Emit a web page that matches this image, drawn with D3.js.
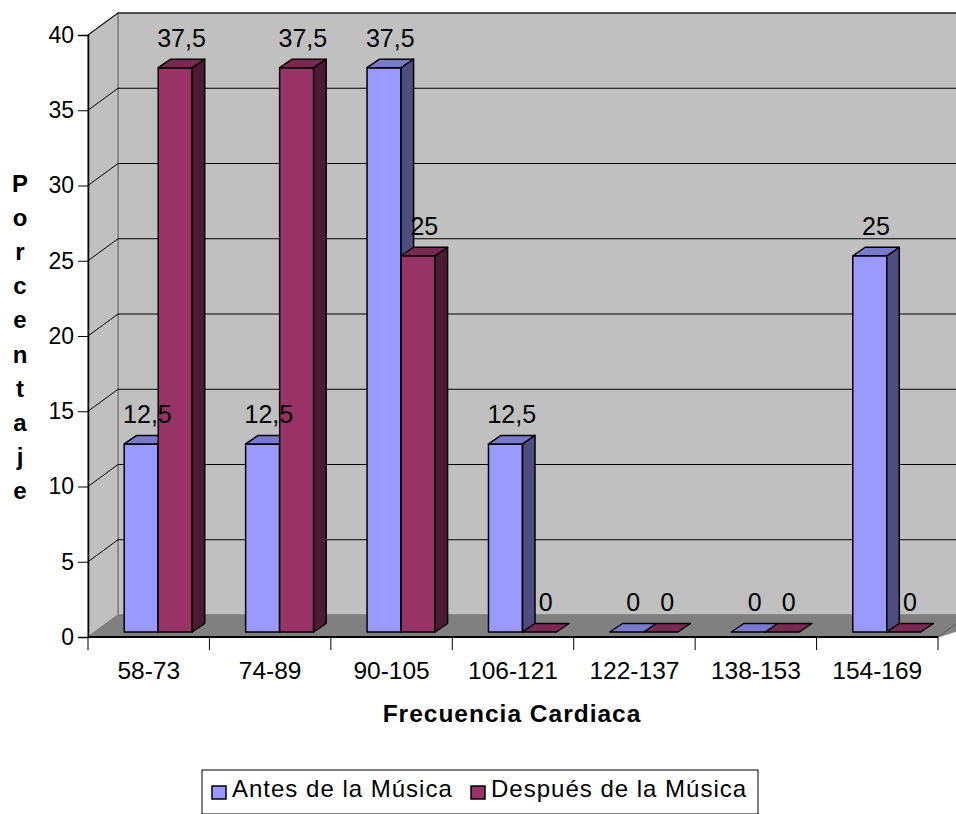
<!DOCTYPE html>
<html>
<head>
<meta charset="utf-8">
<script src="https://cdn.jsdelivr.net/npm/d3@7"></script>
<style>
  html, body { margin: 0; padding: 0; background: #ffffff; }
  svg { display: block; font-family: "Liberation Sans", Arial, sans-serif; }
</style>
</head>
<body>
<svg id="chart" width="956" height="814"></svg>
<script>
// Heart-rate ranges and percentage of subjects before / after music
const categories = ["58-73", "74-89", "90-105", "106-121", "122-137", "138-153", "154-169"];
const seriesNames = ["Antes de la Música", "Después de la Música"];
const antes = [12.5, 12.5, 37.5, 12.5, 0, 0, 25];
const despues = [37.5, 37.5, 25, 0, 0, 0, 0];
const yTicks = [0, 5, 10, 15, 20, 25, 30, 35, 40];
const yTitle = "Porcentaje";
const xTitle = "Frecuencia Cardiaca";

const colors = [
  { front: "#9999FF", top: "#7A7ACC", side: "#4D4D80" },
  { front: "#993366", top: "#7A2952", side: "#4D1A33" }
];

const FONT = "Liberation Sans, Arial, sans-serif";
const svg = d3.select("#chart");

// Plot frame (front plane) and 3D depth offsets
const x0 = 88, x1 = 938, yBottom = 637, yTop = 35;
const DX = 30, DY = -22;            // full wall depth
const ox = 9.5, oy = -5;            // bar front face offset from the front plane
const bdx = 12.5, bdy = -8.5;       // bar depth
const backRight = 975;

const x = d3.scaleBand().domain(categories).range([x0, x1]).paddingInner(0).paddingOuter(0);
const xs = d3.scaleBand().domain(seriesNames).range([0, x.bandwidth()]).paddingInner(0).paddingOuter(0.785);
const y = d3.scaleLinear().domain([0, 40]).range([yBottom, yTop]);

// Walls
const gWalls = svg.append("g");
gWalls.append("polygon")
  .attr("points", [[x0 + DX, y(40) + DY], [backRight, y(40) + DY], [backRight, y(0) + DY], [x0 + DX, y(0) + DY]].join(" "))
  .attr("fill", "#C0C0C0").attr("stroke", "#808080").attr("stroke-width", 1.5);
gWalls.append("polygon")
  .attr("points", [[x0, y(40)], [x0 + DX, y(40) + DY], [x0 + DX, y(0) + DY], [x0, y(0)]].join(" "))
  .attr("fill", "#C0C0C0").attr("stroke", "#808080").attr("stroke-width", 1.5);

// gridlines on back wall and side wall
yTicks.filter(t => t > 0).forEach(t => {
  gWalls.append("line")
    .attr("x1", x0 + DX).attr("x2", backRight)
    .attr("y1", y(t) + DY).attr("y2", y(t) + DY)
    .attr("stroke", "#000").attr("stroke-width", 1);
  gWalls.append("line")
    .attr("x1", x0).attr("x2", x0 + DX)
    .attr("y1", y(t)).attr("y2", y(t) + DY)
    .attr("stroke", "#000").attr("stroke-width", 1);
});

// floor
gWalls.append("polygon")
  .attr("points", [[x0, y(0)], [x0 + DX, y(0) + DY], [x1 + DX + 40, y(0) + DY], [x1, y(0)]].join(" "))
  .attr("fill", "#808080").attr("stroke", "#808080");
gWalls.append("line")
  .attr("x1", x1).attr("y1", y(0)).attr("x2", x1 + DX).attr("y2", y(0) + DY)
  .attr("stroke", "#595959").attr("stroke-width", 1);

// Axes
const yAxis = d3.axisLeft(y).tickValues(yTicks).tickSize(10).tickPadding(4).tickFormat(d3.format("d"));
const gy = svg.append("g").attr("transform", `translate(${x0},0)`).call(yAxis);
gy.select(".domain").attr("stroke", "#000").attr("stroke-width", 1.5);
gy.selectAll(".tick line").attr("stroke", "#000");
gy.selectAll(".tick text").attr("font-size", 23).attr("fill", "#000").attr("font-family", FONT);

const xAxis = d3.axisBottom(x).tickSize(0).tickPadding(25);
const gx = svg.append("g").attr("transform", `translate(0,${yBottom})`).call(xAxis);
gx.select(".domain").remove();
gx.append("line").attr("x1", x0).attr("x2", x1).attr("y1", 0).attr("y2", 0).attr("stroke", "#000").attr("stroke-width", 2);
gx.selectAll(".tick text").attr("font-size", 24.5).attr("fill", "#000").attr("font-family", FONT);
const bounds = categories.map(c => x(c)).concat([x1]);
gx.selectAll(".bnd").data(bounds).enter().append("line")
  .attr("x1", d => d).attr("x2", d => d).attr("y1", 0).attr("y2", 13)
  .attr("stroke", "#000").attr("stroke-width", 1);

// Bars
const data = categories.map((c, i) => [antes[i], despues[i]]);
const gBars = svg.append("g");
const labels = [];

categories.forEach((c, i) => {
  seriesNames.forEach((s, j) => {
    const v = data[i][j];
    const col = colors[j];
    const L = x(c) + xs(s) + ox;
    const R = L + xs.bandwidth();
    const B = y(0) + oy;
    const T = y(v) + oy;
    const g = gBars.append("g").attr("stroke", "#000").attr("stroke-width", 1.5).attr("stroke-linejoin", "round");
    if (v > 0) {
      g.append("polygon").attr("points", [[L, T], [R, T], [R, B], [L, B]].join(" ")).attr("fill", col.front);
      g.append("polygon").attr("points", [[R, T], [R + bdx, T + bdy], [R + bdx, B + bdy], [R, B]].join(" ")).attr("fill", col.side);
    }
    g.append("polygon").attr("points", [[L, T], [R, T], [R + bdx, T + bdy], [L + bdx, T + bdy]].join(" ")).attr("fill", col.top);
    labels.push({ v, cx: (L + R) / 2 + bdx / 2, ty: T });
  });
});

// Value labels
svg.append("g").selectAll("text").data(labels).enter().append("text")
  .attr("x", d => d.cx).attr("y", d => d.ty - 21)
  .attr("text-anchor", "middle").attr("font-size", 25).attr("fill", "#000").attr("font-family", FONT)
  .text(d => d3.format(".1~f")(d.v).replace(".", ","));

// Axis titles
const letters = yTitle.split("");
svg.append("g").selectAll("text").data(letters).enter().append("text")
  .attr("x", 20).attr("y", (d, i) => 192 + i * 34.1)
  .attr("text-anchor", "middle").attr("font-size", 24).attr("font-weight", "bold").attr("fill", "#000")
  .attr("font-family", FONT)
  .text(d => d);

svg.append("text").attr("x", 512).attr("y", 722).attr("text-anchor", "middle")
  .attr("font-size", 24.5).attr("font-weight", "bold").attr("letter-spacing", 1).attr("fill", "#000")
  .attr("font-family", FONT).text(xTitle);

// Legend
const lg = svg.append("g");
lg.append("rect").attr("x", 202).attr("y", 770).attr("width", 556).attr("height", 44)
  .attr("fill", "#fff").attr("stroke", "#000").attr("stroke-width", 1);
const legendX = [212, 471];
seriesNames.forEach((s, j) => {
  lg.append("rect").attr("x", legendX[j]).attr("y", 786).attr("width", 14).attr("height", 13)
    .attr("fill", colors[j].front).attr("stroke", "#000").attr("stroke-width", 1.5);
  lg.append("text").attr("x", legendX[j] + 20).attr("y", 797).attr("font-size", 24)
    .attr("letter-spacing", 1).attr("fill", "#000").attr("font-family", FONT).text(s);
});
</script>
</body>
</html>
